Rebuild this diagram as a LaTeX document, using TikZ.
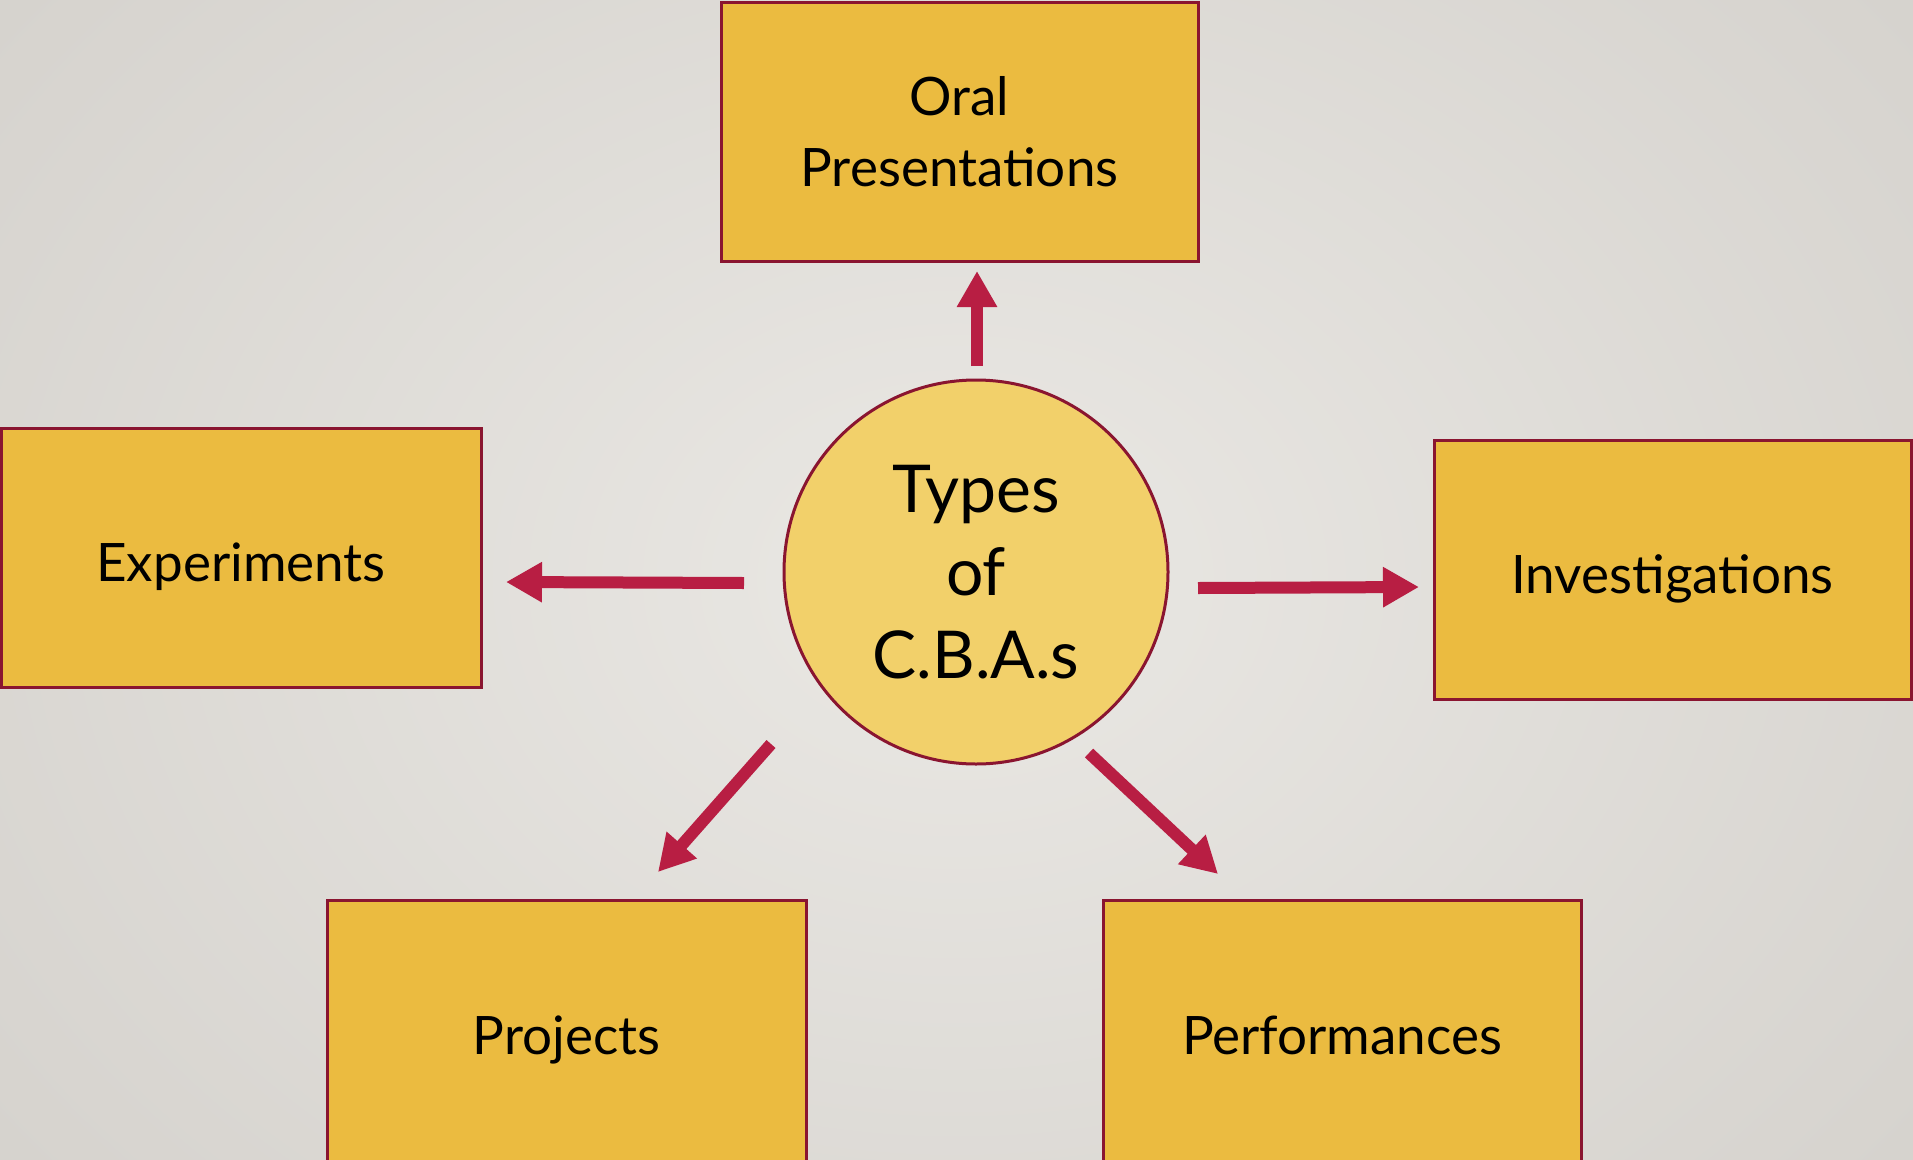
\documentclass[tikz,border=0pt]{standalone}
\usepackage{fontspec}
\setmainfont{Lato}
\usetikzlibrary{arrows.meta}
\definecolor{bgin}{HTML}{EAE8E4}
\definecolor{bgout}{HTML}{D5D2CD}
\definecolor{boxfill}{HTML}{EBBB40}
\definecolor{boxline}{HTML}{8A1530}
\definecolor{circfill}{HTML}{F2D06A}
\definecolor{arrowcol}{HTML}{B81E43}
\tikzset{
  box/.style={draw=boxline, line width=3pt, fill=boxfill, rectangle, inner sep=0pt,
    align=center, font=\fontsize{53}{71}\selectfont},
  oneline/.style={text height=58pt, text depth=10pt},
  lowline/.style={text height=58pt, text depth=20pt},
  hub/.style={draw=boxline, line width=3pt, fill=circfill, circle, inner sep=0pt,
    minimum size=384pt, align=center, font=\fontsize{66}{83}\selectfont},
  fat/.style={draw=arrowcol, line width=12pt, -{Triangle[width=38pt,length=36pt]}}
}
\begin{document}
\begin{tikzpicture}[x=1pt,y=-1pt]
\useasboundingbox (0,0) rectangle (1913,1159);
\clip (0,0) rectangle (1913,1159);
\shade[inner color=bgin, outer color=bgout] (-300,-400) rectangle (2213,1559);
% boxes
\node[box, minimum width=477pt, minimum height=259pt, text depth=1pt] (oral) at (959.5,131.5) {Oral\\Presentations};
\node[box, oneline, minimum width=480pt, minimum height=259pt] (exp) at (241,557.5) {Experiments};
\node[box, oneline, minimum width=477pt, minimum height=259pt] (inv) at (1672.5,569.5) {Investigations};
\node[box, lowline, minimum width=479pt, minimum height=270pt] (proj) at (566.5,1035) {Projects};
\node[box, lowline, minimum width=478pt, minimum height=270pt] (perf) at (1342,1035) {Performances};
% hub
\node[hub] (hub) at (976,572) {Types\\of\\C.B.A.s};
% arrow ends
\coordinate (u0) at (977,366);  \coordinate (u1) at (977,271);
\coordinate (l0) at (744,583);  \coordinate (l1) at (506,582);
\coordinate (r0) at (1198,588); \coordinate (r1) at (1419,587);
\coordinate (p0) at (771,744);  \coordinate (p1) at (658,872);
\coordinate (q0) at (1089,753); \coordinate (q1) at (1218,874);
\draw[fat] (u0) -- (u1);
\draw[fat] (l0) -- (l1);
\draw[fat] (r0) -- (r1);
\draw[fat] (p0) -- (p1);
\draw[fat] (q0) -- (q1);
\end{tikzpicture}
\end{document}
